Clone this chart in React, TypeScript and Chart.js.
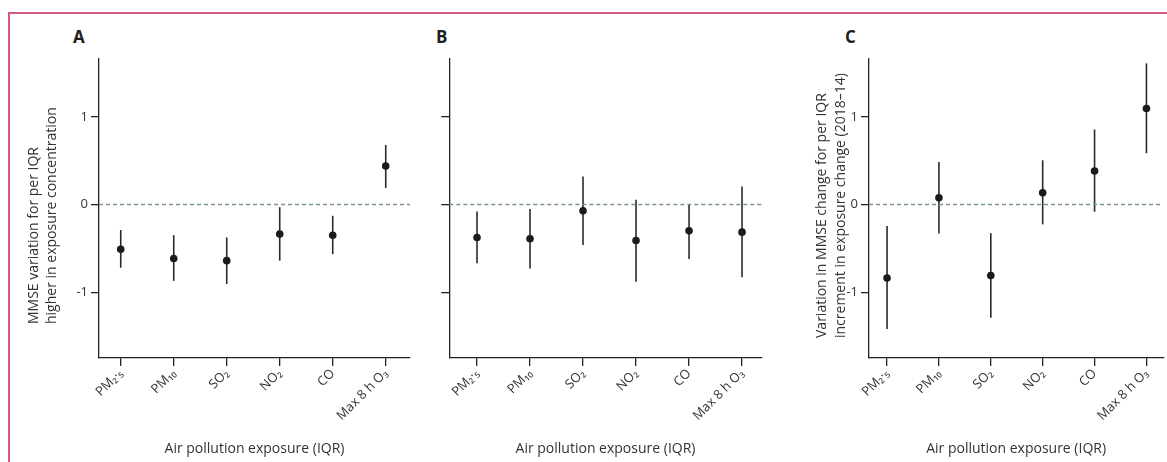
import React, { useEffect, useRef } from 'react';
import { Chart, registerables } from 'chart.js';

Chart.register(...registerables);

// ---- data ----
const categories = ['PM₂·₅', 'PM₁₀', 'SO₂', 'NO₂', 'CO', 'Max 8 h O₃'];
const yTickValues = [-1, 0, 1];

const aEstimate = [-0.51, -0.615, -0.64, -0.337, -0.35, 0.44];
const aLower = [-0.72, -0.87, -0.905, -0.64, -0.566, 0.19];
const aUpper = [-0.29, -0.35, -0.375, -0.03, -0.128, 0.68];

const bEstimate = [-0.375, -0.39, -0.07, -0.41, -0.3, -0.315];
const bLower = [-0.67, -0.73, -0.46, -0.88, -0.62, -0.83];
const bUpper = [-0.08, -0.05, 0.32, 0.055, 0.0, 0.205];

const cEstimate = [-0.837, 0.078, -0.81, 0.135, 0.383, 1.095];
const cLower = [-1.42, -0.33, -1.29, -0.226, -0.082, 0.585];
const cUpper = [-0.246, 0.486, -0.326, 0.505, 0.855, 1.61];

const xTitle = 'Air pollution exposure (IQR)';
const aYTitle = ['MMSE variation for per IQR', 'higher in exposure concentration'];
const cYTitle = ['Variation in MMSE change for per IQR', 'increment in exposure change (2018–14)'];

const FONT = "'Open Sans', 'Noto Sans', 'DejaVu Sans', sans-serif";
const TEXT = '#333333';
const AXIS = '#222222';

type Spec = {
  left: number;
  width: number;
  yWidth: number;
  padRight: number;
  xMin: number;
  xMax: number;
  est: number[];
  low: number[];
  high: number[];
  yTitle: string[] | null;
  yTitleX: number[];
  yTitleStart: number;
  showYLabels: boolean;
};

const H = 462;

function Panel({ spec }: { spec: Spec }) {
  const ref = useRef<HTMLCanvasElement>(null);
  useEffect(() => {
    if (!ref.current) return;
    const errorBars = {
      id: 'errorBars',
      beforeDatasetsDraw(chart: any) {
        const { ctx } = chart;
        const x = chart.scales.x;
        const y = chart.scales.y;
        ctx.save();
        ctx.strokeStyle = '#2a2a2a';
        ctx.lineWidth = 1.6;
        spec.est.forEach((_, i) => {
          const px = x.getPixelForValue(i);
          ctx.beginPath();
          ctx.moveTo(px, y.getPixelForValue(spec.low[i]));
          ctx.lineTo(px, y.getPixelForValue(spec.high[i]));
          ctx.stroke();
        });
        ctx.restore();
      },
    };
    const yTitlePlugin = {
      id: 'yTitleLeftAligned',
      afterDraw(chart: any) {
        if (!spec.yTitle) return;
        const { ctx } = chart;
        ctx.save();
        ctx.fillStyle = TEXT;
        ctx.font = `14px ${FONT}`;
        ctx.textAlign = 'left';
        ctx.textBaseline = 'middle';
        spec.yTitle.forEach((line, i) => {
          ctx.save();
          ctx.translate(spec.yTitleX[i], spec.yTitleStart);
          ctx.rotate(-Math.PI / 2);
          ctx.fillText(line, 0, 0);
          ctx.restore();
        });
        ctx.restore();
      },
    };
    const chart = new Chart(ref.current, {
      type: 'scatter',
      data: {
        datasets: [
          {
            type: 'line',
            data: [
              { x: spec.xMin, y: 0 },
              { x: spec.xMax, y: 0 },
            ],
            borderColor: '#7d939b',
            borderWidth: 1.4,
            borderDash: [4, 3],
            pointRadius: 0,
            fill: false,
          } as any,
          {
            type: 'scatter',
            data: spec.est.map((v, i) => ({ x: i, y: v })),
            pointRadius: 3.8,
            pointHoverRadius: 3.8,
            backgroundColor: '#1b1b1b',
            borderColor: '#1b1b1b',
            borderWidth: 0,
          } as any,
        ],
      },
      options: {
        animation: false,
        responsive: false,
        maintainAspectRatio: false,
        layout: { padding: { top: 59, left: 0, right: spec.padRight, bottom: 0 } },
        plugins: { legend: { display: false }, tooltip: { enabled: false } },
        scales: {
          x: {
            type: 'linear',
            min: spec.xMin,
            max: spec.xMax,
            afterBuildTicks: (s: any) => {
              s.ticks = categories.map((_, i) => ({ value: i }));
            },
            afterFit: (s: any) => {
              s.height = 104;
            },
            ticks: {
              autoSkip: false,
              maxRotation: 45,
              minRotation: 45,
              padding: 0,
              color: TEXT,
              font: { family: FONT, size: 13 },
              callback: (_v: any, i: number) => categories[i],
            },
            grid: {
              display: true,
              drawOnChartArea: false,
              drawTicks: true,
              tickLength: 8,
              color: AXIS,
              lineWidth: 1.3,
            },
            border: { display: true, color: AXIS, width: 1.3 },
            title: {
              display: true,
              text: xTitle,
              color: TEXT,
              font: { family: FONT, size: 14, lineHeight: 1.2 },
              padding: { top: 0, bottom: 4.6 },
            },
          },
          y: {
            type: 'linear',
            min: -1.75,
            max: 1.66,
            afterBuildTicks: (s: any) => {
              s.ticks = yTickValues.map((v) => ({ value: v }));
            },
            afterFit: (s: any) => {
              s.width = spec.yWidth;
            },
            ticks: {
              display: spec.showYLabels,
              padding: 3,
              color: TEXT,
              font: { family: FONT, size: 13 },
              callback: (v: any) => String(v),
            },
            grid: {
              display: true,
              drawOnChartArea: false,
              drawTicks: true,
              tickLength: 8,
              color: AXIS,
              lineWidth: 1.3,
            },
            border: { display: true, color: AXIS, width: 1.3 },
            title: { display: false },
          },
        },
      } as any,
      plugins: [errorBars, yTitlePlugin],
    });
    return () => chart.destroy();
  }, []);
  return (
    <canvas
      ref={ref}
      width={spec.width}
      height={H}
      style={{ position: 'absolute', left: spec.left, top: 0, width: spec.width, height: H }}
    />
  );
}

const panelA: Spec = {
  left: 10, width: 420, yWidth: 89, padRight: 20,
  xMin: -0.41, xMax: 5.458,
  est: aEstimate, low: aLower, high: aUpper,
  yTitle: aYTitle, yTitleX: [23.8, 41.8], yTitleStart: 324, showYLabels: true,
};
const panelB: Spec = {
  left: 430, width: 340, yWidth: 19.3, padRight: 8.3,
  xMin: -0.523, xMax: 5.371,
  est: bEstimate, low: bLower, high: bUpper,
  yTitle: null, yTitleX: [], yTitleStart: 0, showYLabels: false,
};
const panelC: Spec = {
  left: 770, width: 397, yWidth: 99, padRight: 0,
  xMin: -0.348, xMax: 5.323,
  est: cEstimate, low: cLower, high: cUpper,
  yTitle: cYTitle, yTitleX: [52, 71.5], yTitleStart: 338, showYLabels: true,
};

const letterStyle = (left: number): React.CSSProperties => ({
  position: 'absolute',
  left,
  top: 28,
  fontFamily: FONT,
  fontWeight: 700,
  fontSize: 17,
  lineHeight: '17px',
  color: '#1e1e1e',
});

export default function App() {
  return (
    <div
      style={{
        position: 'fixed',
        left: 0,
        top: 0,
        width: 1167,
        height: H,
        background: '#ffffff',
        overflow: 'hidden',
      }}
    >
      <div
        style={{
          position: 'absolute',
          left: 8,
          top: 12,
          width: 1200,
          height: 500,
          borderTop: '2px solid #cf5c7a',
          borderLeft: '2px solid #cf5c7a',
        }}
      />
      <div style={letterStyle(73)}>A</div>
      <div style={letterStyle(436)}>B</div>
      <div style={letterStyle(845)}>C</div>
      <Panel spec={panelA} />
      <Panel spec={panelB} />
      <Panel spec={panelC} />
    </div>
  );
}
